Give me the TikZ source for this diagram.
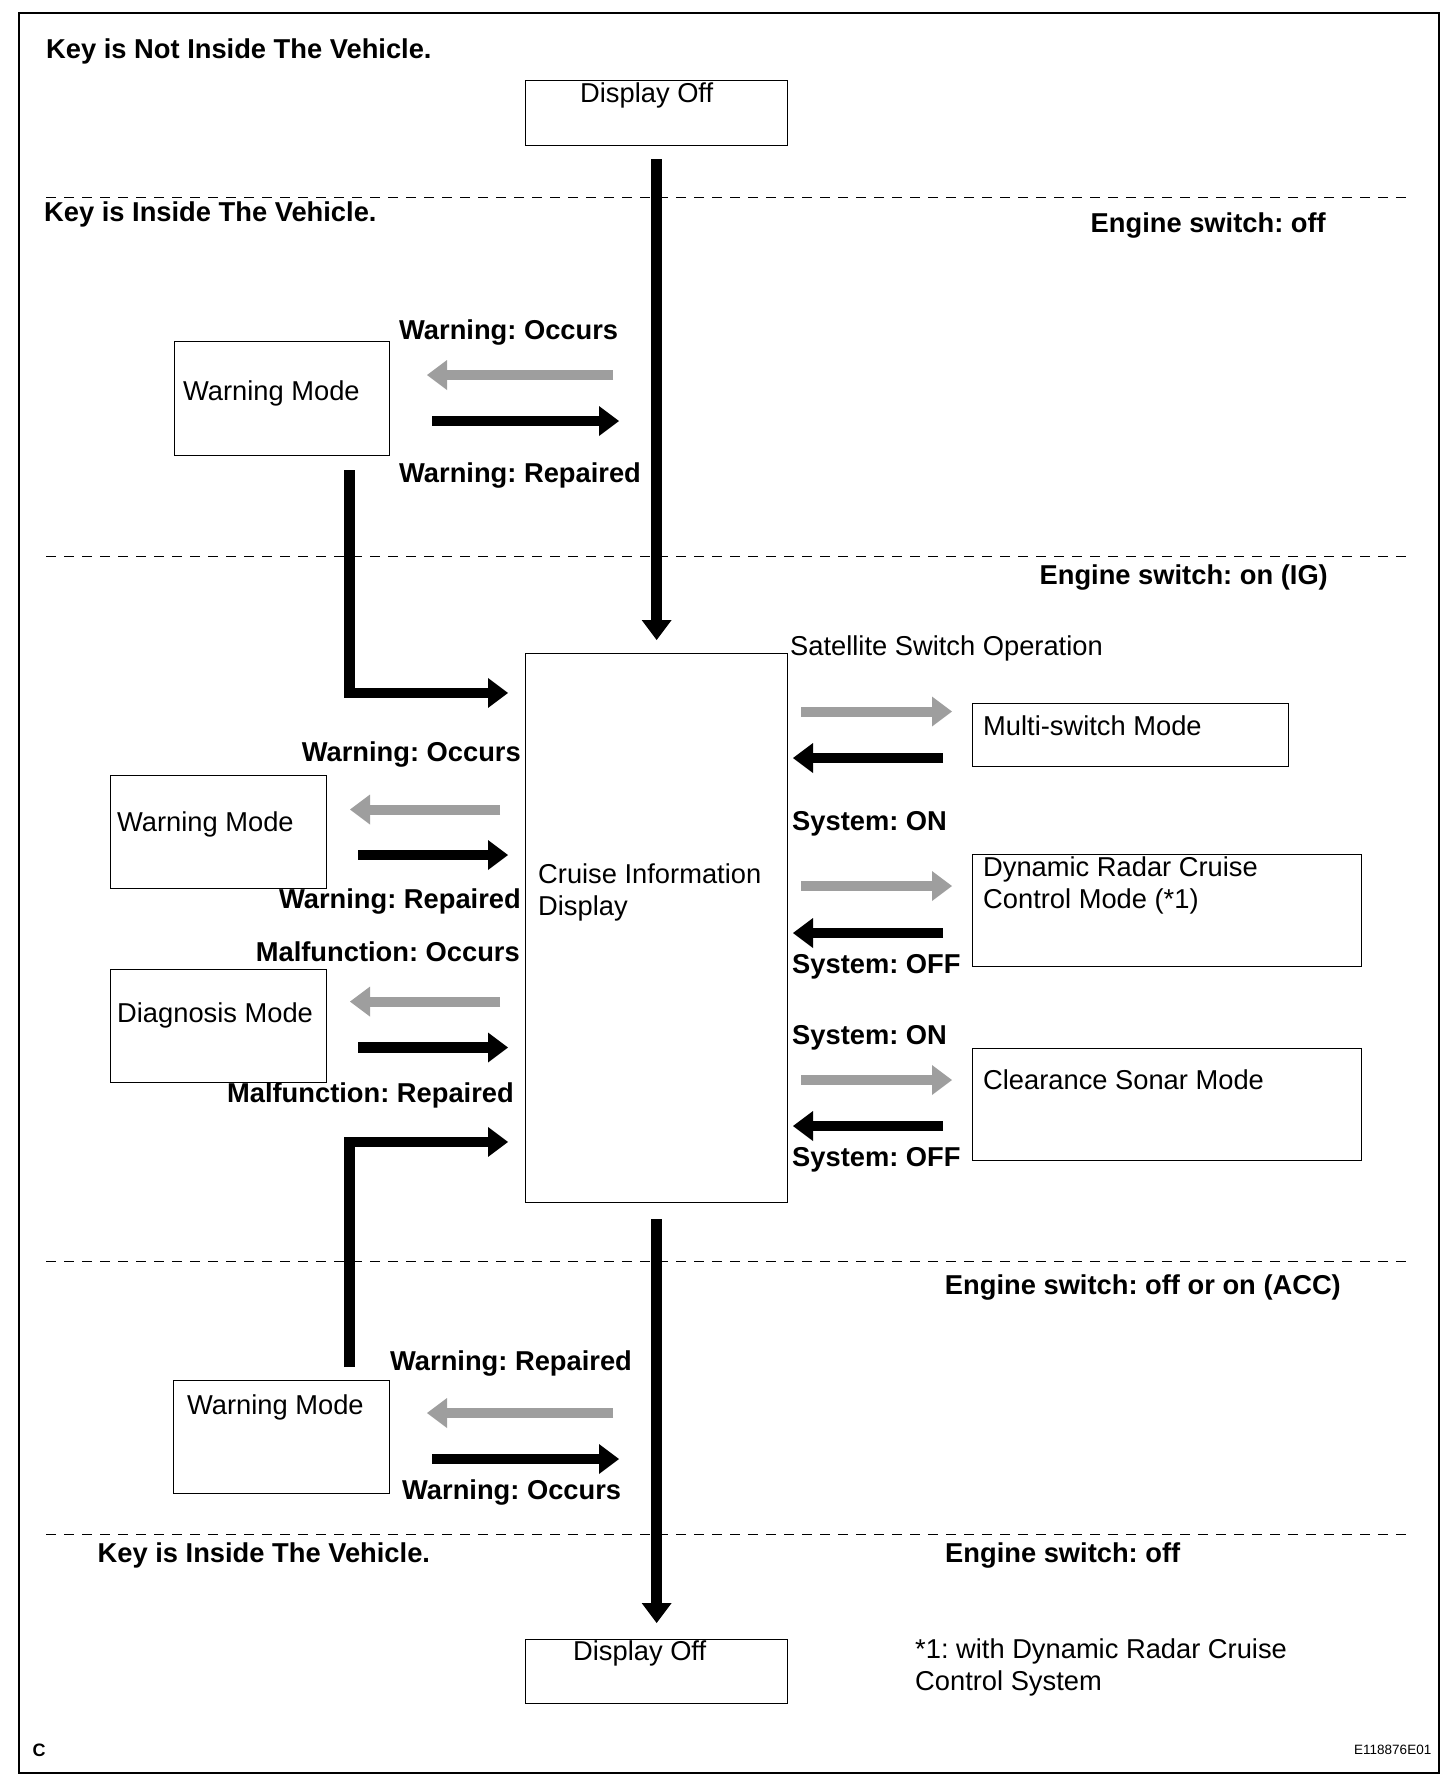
\documentclass[tikz,border=0pt]{standalone}
\usepackage{fontspec}
\setmainfont{Liberation Sans}
\usetikzlibrary{arrows.meta}
\frenchspacing

\newcommand\lblfont{\fontsize{27.3}{32}\selectfont\bfseries}
\newcommand\txtfont{\fontsize{27.3}{32}\selectfont}

\tikzset{
  box/.style={draw, line width=1.3pt, anchor=north west, inner sep=0pt},
  lbl/.style={font=\lblfont, inner sep=0pt, anchor=west},
  txt/.style={font=\txtfont, inner sep=0pt, anchor=west, align=left},
  blk/.style={line width=10.5pt, -{Triangle[length=20pt,width=30pt,line width=0pt]}},
  gry/.style={line width=10pt, color=black!38, -{Triangle[length=20pt,width=30pt,line width=0pt]}},
  sep/.style={dash pattern=on 10pt off 8pt, line width=1pt},
}

\begin{document}
\begin{tikzpicture}[x=1pt,y=-1pt]
\useasboundingbox (0,0) rectangle (1456,1792);
\draw[line width=2pt] (18.6,12.6) rectangle (1439,1773);

% zone lines
\draw[sep] (46,197.5) -- (1409,197.5);
\draw[sep] (46,556) -- (1409,556);
\draw[sep] (46,1261) -- (1409,1261);
\draw[sep] (46,1534) -- (1409,1534);

\node[lbl] (keyOut) at (46,51) {Key is Not Inside The Vehicle.};
\node[lbl] (keyInTop) at (44,214) {Key is Inside The Vehicle.};
\node[lbl, anchor=east] (engOff) at (1326,225) {Engine switch: off};
\node[lbl, anchor=east] (engIG) at (1328,577) {Engine switch: on (IG)};
\node[lbl, anchor=east] (engACC) at (1341,1287) {Engine switch: off or on (ACC)};
\node[lbl] (keyInBot) at (97.5,1555) {Key is Inside The Vehicle.};
\node[lbl] (engOffBot) at (945,1555) {Engine switch: off};

% boxes
\node[box, minimum width=262pt, minimum height=65pt] (offTop) at (525,80) {};
\node[txt] (offTopT) at (580,95) {Display Off};

\node[box, minimum width=215pt, minimum height=114pt] (warnTop) at (174,341) {};
\node[txt] (warnTopT) at (183,393) {Warning Mode};

\node[box, minimum width=262pt, minimum height=549.4pt] (cid) at (525,652.6) {};
\node[txt] (cidT) at (538,892) {Cruise Information\\Display};

\node[box, minimum width=216pt, minimum height=113pt] (warnMid) at (110,775) {};
\node[txt] (warnMidT) at (117,824) {Warning Mode};

\node[box, minimum width=216pt, minimum height=113pt] (diag) at (110,969) {};
\node[txt] (diagT) at (117,1015) {Diagnosis Mode};

\node[box, minimum width=316pt, minimum height=63pt] (multi) at (972,703) {};
\node[txt] (multiT) at (983,726) {Multi-switch Mode};

\node[box, minimum width=389pt, minimum height=112.5pt] (drcc) at (972,853.5) {};
\node[txt] (drccT) at (983,885.5) {Dynamic Radar Cruise\\Control Mode (*1)};

\node[box, minimum width=389pt, minimum height=112.5pt] (sonar) at (972,1047.5) {};
\node[txt] (sonarT) at (983,1080) {Clearance Sonar Mode};

\node[box, minimum width=216pt, minimum height=113pt] (warnBot) at (173,1380) {};
\node[txt] (warnBotT) at (187,1407) {Warning Mode};

\node[box, minimum width=262pt, minimum height=64pt] (offBot) at (525,1639) {};
\node[txt] (offBotT) at (573,1653) {Display Off};

\node[txt] (satT) at (790,648) {Satellite Switch Operation};

% main flow
\draw[blk, shorten <=13pt, shorten >=12.6pt] (offTop) -- (cid);
\draw[blk, shorten <=16pt, shorten >=16pt] (cid) -- (offBot);
\draw[blk, shorten <=14pt, shorten >=17pt] ([xshift=67.5pt]warnTop.south) |- ([yshift=235pt]cid.west);
\draw[blk, shorten <=13pt, shorten >=17pt] ([xshift=68pt]warnBot.north) |- ([yshift=-214pt]cid.west);

% top warning pair
\coordinate (tG1) at (613,375);
\coordinate (tG2) at (427,375);
\coordinate (tB1) at (432,421);
\coordinate (tB2) at (619,421);
\draw[gry] (tG1) -- (tG2);
\draw[blk] (tB1) -- (tB2);
\node[lbl] (tOcc) at (399,332) {Warning: Occurs};
\node[lbl] (tRep) at (399,475) {Warning: Repaired};

% left side
\coordinate (wG1) at (500,809.5);
\coordinate (wG2) at (350,809.5);
\coordinate (wB1) at (358,855);
\coordinate (wB2) at (508,855);
\draw[gry] (wG1) -- (wG2);
\draw[blk] (wB1) -- (wB2);
\node[lbl, anchor=east] (wOcc) at (521,754) {Warning: Occurs};
\node[lbl, anchor=east] (wRep) at (521,901) {Warning: Repaired};

\coordinate (dG1) at (500,1001.6);
\coordinate (dG2) at (350,1001.6);
\coordinate (dB1) at (358,1047.5);
\coordinate (dB2) at (508,1047.5);
\draw[gry] (dG1) -- (dG2);
\draw[blk] (dB1) -- (dB2);
\node[lbl, anchor=east] (dOcc) at (520,952) {Malfunction: Occurs};
\node[lbl, anchor=east] (dRep) at (514,1095) {Malfunction: Repaired};

% right side
\coordinate (mG1) at (801,711.5);
\coordinate (mG2) at (952,711.5);
\coordinate (mB1) at (943,758);
\coordinate (mB2) at (793,758);
\draw[gry] (mG1) -- (mG2);
\draw[blk] (mB1) -- (mB2);

\coordinate (rG1) at (801,886);
\coordinate (rG2) at (952,886);
\coordinate (rB1) at (943,933);
\coordinate (rB2) at (793,933);
\draw[gry] (rG1) -- (rG2);
\draw[blk] (rB1) -- (rB2);
\node[lbl] (rOn) at (792,824) {System: ON};
\node[lbl] (rOff) at (792,967) {System: OFF};

\coordinate (sG1) at (801,1080);
\coordinate (sG2) at (952,1080);
\coordinate (sB1) at (943,1126);
\coordinate (sB2) at (793,1126);
\draw[gry] (sG1) -- (sG2);
\draw[blk] (sB1) -- (sB2);
\node[lbl] (sOn) at (792,1038) {System: ON};
\node[lbl] (sOff) at (792,1160) {System: OFF};

% bottom warning pair
\coordinate (bG1) at (613,1413);
\coordinate (bG2) at (427,1413);
\coordinate (bB1) at (432,1459);
\coordinate (bB2) at (619,1459);
\draw[gry] (bG1) -- (bG2);
\draw[blk] (bB1) -- (bB2);
\node[lbl] (bRep) at (390,1363) {Warning: Repaired};
\node[lbl] (bOcc) at (402,1492) {Warning: Occurs};

\node[txt] (note) at (915,1667) {*1: with Dynamic Radar Cruise\\Control System};
\node[lbl, font=\fontsize{18}{20}\selectfont\bfseries] (figC) at (32.5,1750) {C};
\node[txt, font=\fontsize{13.5}{15}\selectfont] (figId) at (1354,1750) {E118876E01};

\end{tikzpicture}
\end{document}
